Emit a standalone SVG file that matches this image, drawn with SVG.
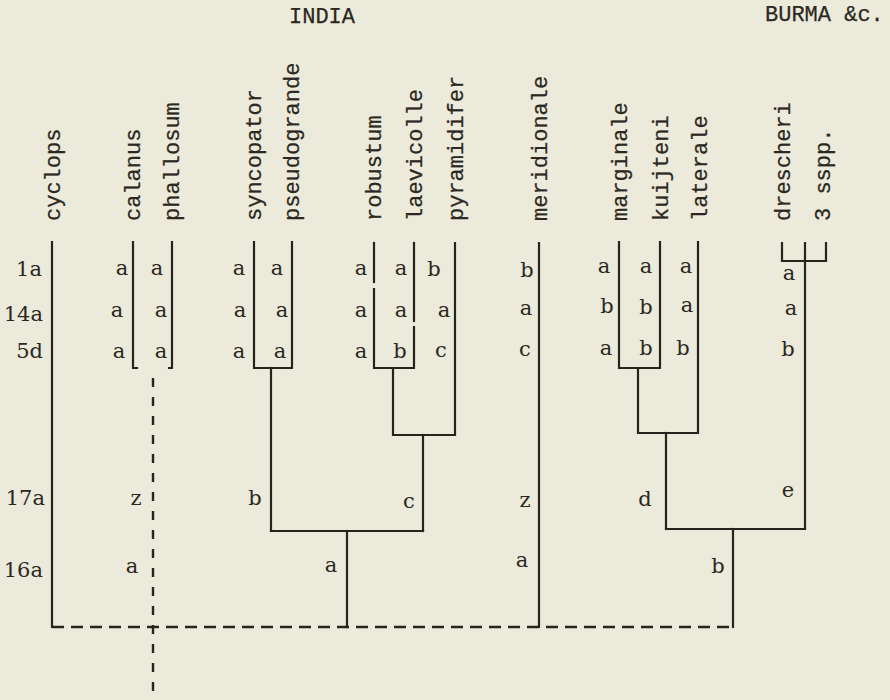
<svg xmlns="http://www.w3.org/2000/svg" width="890" height="700" viewBox="0 0 890 700">
  <style>
    .bg { fill: #ecebdb; }
    .tw { font-family: "Liberation Mono", "DejaVu Sans Mono", monospace; font-size: 22px; fill: #2b2822; stroke: #2b2822; stroke-width: 0.25; }
    .sp { font-family: "DejaVu Serif", "Liberation Serif", serif; font-size: 21px; fill: #2b2822; }
    .st { text-anchor: middle; }
    .rl { text-anchor: end; }
    .ln { fill: none; stroke: #27241f; stroke-width: 2.2; stroke-linecap: square; }
    .dh { fill: none; stroke: #27241f; stroke-width: 2.4; stroke-dasharray: 12 7; }
    .dv { fill: none; stroke: #27241f; stroke-width: 2.4; stroke-dasharray: 9 10; }
  </style>
  <rect class="bg" x="0" y="0" width="890" height="700"/>

  <!-- region headings -->
  <g id="headings">
    <text class="tw" x="322" y="23" text-anchor="middle">INDIA</text>
    <text class="tw" x="765" y="21">BURMA &amp;c.</text>
  </g>

  <!-- row labels -->
  <g id="row-labels" class="sp rl">
    <text x="42" y="276">1a</text>
    <text x="43" y="321">14a</text>
    <text x="43" y="358">5d</text>
    <text x="45" y="505">17a</text>
    <text x="43" y="577">16a</text>
  </g>

  <!-- taxa (terminal nodes) -->
  <g id="cyclops">
    <text class="tw" transform="translate(60,221) rotate(-90)">cyclops</text>
  </g>
  <g id="calanus">
    <text class="tw" transform="translate(140,221) rotate(-90)">calanus</text>
    <g class="sp st">
      <text x="122" y="275">a</text>
      <text x="117" y="317">a</text>
      <text x="119" y="358">a</text>
      <text x="136" y="505">z</text>
      <text x="132" y="573">a</text>
    </g>
  </g>
  <g id="phallosum">
    <text class="tw" transform="translate(179,221) rotate(-90)">phallosum</text>
    <g class="sp st">
      <text x="157" y="275">a</text>
      <text x="161" y="317">a</text>
      <text x="161" y="358">a</text>
    </g>
  </g>
  <g id="syncopator">
    <text class="tw" transform="translate(261,221) rotate(-90)">syncopator</text>
    <g class="sp st">
      <text x="239" y="275">a</text>
      <text x="240" y="317">a</text>
      <text x="239" y="358">a</text>
    </g>
  </g>
  <g id="pseudogrande">
    <text class="tw" transform="translate(299,221) rotate(-90)">pseudogrande</text>
    <g class="sp st">
      <text x="277" y="275">a</text>
      <text x="282" y="317">a</text>
      <text x="280" y="358">a</text>
    </g>
  </g>
  <g id="robustum">
    <text class="tw" transform="translate(381,221) rotate(-90)">robustum</text>
    <g class="sp st">
      <text x="361" y="275">a</text>
      <text x="361" y="317">a</text>
      <text x="361" y="358">a</text>
    </g>
  </g>
  <g id="laevicolle">
    <text class="tw" transform="translate(422,221) rotate(-90)">laevicolle</text>
    <g class="sp st">
      <text x="401" y="275">a</text>
      <text x="401" y="317">a</text>
      <text x="400" y="358">b</text>
    </g>
  </g>
  <g id="pyramidifer">
    <text class="tw" transform="translate(463,221) rotate(-90)">pyramidifer</text>
    <g class="sp st">
      <text x="434" y="276">b</text>
      <text x="444" y="317">a</text>
      <text x="441" y="357">c</text>
    </g>
  </g>
  <g id="meridionale">
    <text class="tw" transform="translate(547,221) rotate(-90)">meridionale</text>
    <g class="sp st">
      <text x="527" y="277">b</text>
      <text x="526" y="315">a</text>
      <text x="525" y="356">c</text>
      <text x="525" y="507">z</text>
      <text x="522" y="567">a</text>
    </g>
  </g>
  <g id="marginale">
    <text class="tw" transform="translate(627,221) rotate(-90)">marginale</text>
    <g class="sp st">
      <text x="604" y="273">a</text>
      <text x="607" y="313">b</text>
      <text x="606" y="355">a</text>
    </g>
  </g>
  <g id="kuijteni">
    <text class="tw" transform="translate(668,221) rotate(-90)">kuijteni</text>
    <g class="sp st">
      <text x="646" y="273">a</text>
      <text x="646" y="314">b</text>
      <text x="646" y="355">b</text>
    </g>
  </g>
  <g id="laterale">
    <text class="tw" transform="translate(707,221) rotate(-90)">laterale</text>
    <g class="sp st">
      <text x="686" y="273">a</text>
      <text x="687" y="312">a</text>
      <text x="683" y="355">b</text>
    </g>
  </g>
  <g id="drescheri">
    <text class="tw" transform="translate(790,221) rotate(-90)">drescheri</text>
    <g class="sp st">
      <text x="789" y="280">a</text>
      <text x="791" y="315">a</text>
      <text x="788" y="356">b</text>
    </g>
  </g>
  <g id="sspp">
    <text class="tw" transform="translate(830,221) rotate(-90)">3 sspp.</text>
  </g>

  <!-- internal node labels -->
  <g id="internal-labels" class="sp st">
    <text x="255" y="505">b</text>
    <text x="409" y="508">c</text>
    <text x="331" y="572">a</text>
    <text x="645" y="506">d</text>
    <text x="788" y="497">e</text>
    <text x="718" y="573">b</text>
  </g>

  <!-- connectors -->
  <g id="connectors">
    <path class="ln" d="M52 242 V627"/>
    <path class="ln" d="M133 242 V368 H137"/>
    <path class="ln" d="M172 242 V368 H169"/>
    <path class="ln" d="M254 242 V368 H292 V242"/>
    <path class="ln" d="M271 368 V531"/>
    <path class="ln" d="M374 243 V282"/>
    <path class="ln" d="M374 289 V368 H414 V327"/>
    <path class="ln" d="M414 243 V321"/>
    <path class="ln" d="M393 368 V435 H455 V243"/>
    <path class="ln" d="M423 435 V531"/>
    <path class="ln" d="M271 531 H423"/>
    <path class="ln" d="M347 531 V627"/>
    <path class="ln" d="M539 243 V627"/>
    <path class="ln" d="M619 242 V368 H660 V242"/>
    <path class="ln" d="M638 368 V433 H698 V242"/>
    <path class="ln" d="M666 433 V529"/>
    <path class="ln" d="M782 243 V261 H826 V243"/>
    <path class="ln" d="M805 243 V529"/>
    <path class="ln" d="M666 529 H805"/>
    <path class="ln" d="M733 529 V627"/>
    <path class="dh" d="M52 627 H733"/>
    <path class="dv" d="M153 378 V700"/>
  </g>
</svg>
